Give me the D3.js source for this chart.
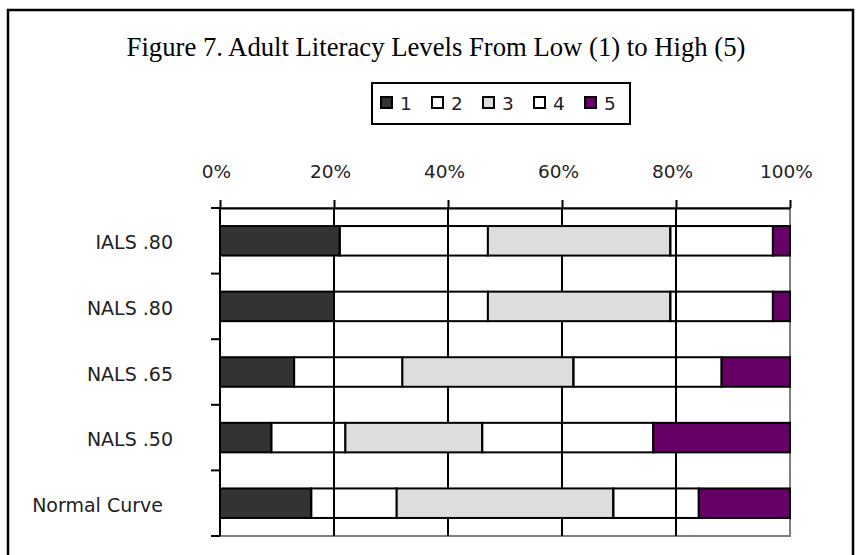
<!DOCTYPE html>
<html>
<head>
<meta charset="utf-8">
<script src="https://cdn.jsdelivr.net/npm/d3@7/dist/d3.min.js"></script>
<style>
  html, body { margin: 0; padding: 0; background: #fff; }
  svg { display: block; }
</style>
</head>
<body>
<svg id="chart" width="856" height="555"></svg>
<script>
// Share of adults at each literacy level, per assessment (percent)
const categories = ["IALS .80", "NALS .80", "NALS .65", "NALS .50", "Normal Curve"];
const levels = ["1", "2", "3", "4", "5"];
const level1 = [21, 20, 13, 9, 16];
const level2 = [26, 27, 19, 13, 15];
const level3 = [32, 32, 30, 24, 38];
const level4 = [18, 18, 26, 30, 15];
const level5 = [3, 3, 12, 24, 16];
const tickValues = [0, 0.2, 0.4, 0.6, 0.8, 1];
const title = "Figure 7. Adult Literacy Levels From Low (1) to High (5)";

const levelFill = { "1": "#333333", "2": "none", "3": "#dddddd", "4": "none", "5": "#660066" };
const swatchFill = { "1": "#333333", "2": "#ffffff", "3": "#dddddd", "4": "#ffffff", "5": "#660066" };

const series = [level1, level2, level3, level4, level5];
const rows = categories.map((c, i) => {
  const row = { category: c };
  levels.forEach((k, j) => { row[k] = series[j][i] / 100; });
  return row;
});

const svg = d3.select("#chart");
const sans = "'DejaVu Sans', Verdana, sans-serif";

// Outer frame
svg.append("rect")
  .attr("x", 8).attr("y", 10).attr("width", 845).attr("height", 600)
  .attr("fill", "none").attr("stroke", "#000").attr("stroke-width", 2.5);

// Title
svg.append("text")
  .attr("x", 436).attr("y", 56)
  .attr("text-anchor", "middle")
  .attr("font-family", "'Liberation Serif', 'Times New Roman', serif")
  .attr("font-size", 26.7)
  .attr("fill", "#000")
  .text(title);

// Legend
const legend = svg.append("g").attr("transform", "translate(372,83)");
legend.append("rect")
  .attr("width", 258).attr("height", 41)
  .attr("fill", "#fff").attr("stroke", "#000").attr("stroke-width", 2);
const item = legend.selectAll("g.item").data(levels).enter().append("g")
  .attr("class", "item")
  .attr("transform", (d, i) => `translate(${9 + i * 51},0)`);
item.append("rect")
  .attr("x", 0).attr("y", 14).attr("width", 11).attr("height", 11)
  .attr("fill", d => swatchFill[d]).attr("stroke", "#000").attr("stroke-width", 2);
item.append("text")
  .attr("x", 19).attr("y", 26.5)
  .attr("font-family", sans).attr("font-size", 18.5).attr("fill", "#222")
  .text(d => d);

// Scales
const x = d3.scaleLinear().domain([0, 1]).range([220, 790]);
const y = d3.scaleBand().domain(categories).range([208, 536])
  .paddingInner(0.55).paddingOuter(0.275);

const plotTop = y.range()[0], plotBottom = y.range()[1];

// Plot area with grey border
svg.append("rect")
  .attr("x", x(0)).attr("y", plotTop)
  .attr("width", x(1) - x(0)).attr("height", plotBottom - plotTop)
  .attr("fill", "#fff").attr("stroke", "#808080").attr("stroke-width", 2);

// Vertical gridlines
svg.append("g").selectAll("line")
  .data(tickValues.filter(v => v > 0 && v < 1)).enter().append("line")
  .attr("x1", d => x(d)).attr("x2", d => x(d))
  .attr("y1", plotTop).attr("y2", plotBottom)
  .attr("stroke", "#000").attr("stroke-width", 2);

// Stacked bars
const stack = d3.stack().keys(levels)(rows);
svg.append("g").selectAll("g").data(stack).enter().append("g")
  .attr("fill", d => levelFill[d.key])
  .selectAll("rect").data(d => d).enter().append("rect")
  .attr("x", d => x(d[0]))
  .attr("y", d => y(d.data.category))
  .attr("width", d => x(d[1]) - x(d[0]))
  .attr("height", y.bandwidth())
  .attr("stroke", "#000").attr("stroke-width", 2);

// Top percentage axis
const xAxis = svg.append("g")
  .attr("transform", `translate(0,${plotTop})`)
  .call(d3.axisTop(x).tickValues(tickValues).tickFormat(d3.format(".0%"))
    .tickSize(8).tickSizeOuter(0).tickPadding(22));
xAxis.select(".domain").attr("stroke", "#000").attr("stroke-width", 2);
xAxis.selectAll(".tick line").attr("stroke", "#000").attr("stroke-width", 2);
xAxis.selectAll(".tick text")
  .attr("font-family", sans).attr("font-size", 18.5).attr("fill", "#222")
  .attr("dx", -4);

// Category axis: ticks sit on the band boundaries
const yAxis = svg.append("g");
yAxis.append("line")
  .attr("x1", x(0)).attr("x2", x(0)).attr("y1", plotTop).attr("y2", plotBottom)
  .attr("stroke", "#000").attr("stroke-width", 2);
const bounds = d3.range(categories.length + 1).map(i => plotTop + i * y.step());
yAxis.selectAll("line.tick").data(bounds).enter().append("line")
  .attr("class", "tick")
  .attr("x1", x(0) - 9).attr("x2", x(0))
  .attr("y1", d => d).attr("y2", d => d)
  .attr("stroke", "#000").attr("stroke-width", 2);
yAxis.selectAll("text").data(categories).enter().append("text")
  .attr("x", 173)
  .attr("dx", (d, i) => i === categories.length - 1 ? -10 : 0)
  .attr("y", d => y(d) + y.bandwidth() / 2 + 8.5)
  .attr("text-anchor", "end")
  .attr("font-family", sans).attr("font-size", 19).attr("fill", "#222")
  .text(d => d);
</script>
</body>
</html>
